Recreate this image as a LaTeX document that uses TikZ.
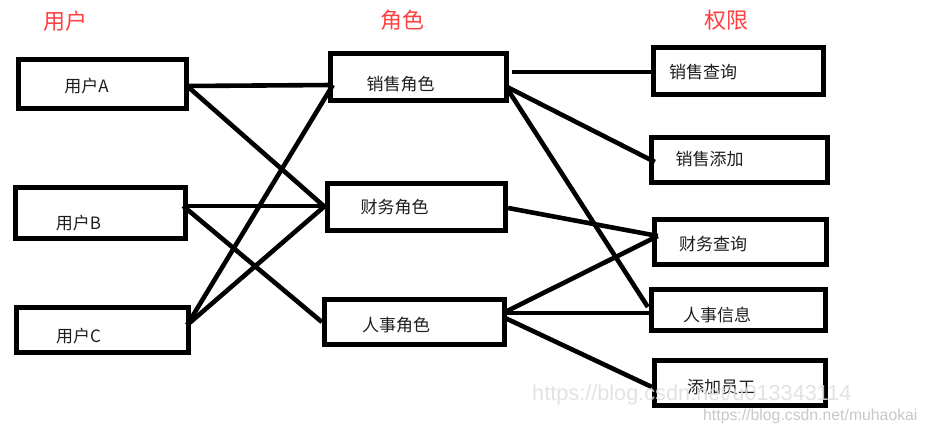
\documentclass[tikz,border=0pt]{standalone}
\usepackage{fontspec}
\setmainfont{Noto Sans CJK SC}
\newfontfamily\wmfont{Liberation Sans}
\usetikzlibrary{calc}
\definecolor{hdr}{RGB}{255,64,64}
\definecolor{wmA}{RGB}{222,222,222}
\definecolor{wmB}{RGB}{200,200,200}
\definecolor{txt}{RGB}{30,30,30}
\begin{document}
\begin{tikzpicture}[x=1pt,y=-1pt,
  box/.style={draw=black, line width=5.3pt, rectangle, inner sep=0pt},
  lbl/.style={font=\fontsize{17}{17}\selectfont, text=txt, inner sep=0pt},
  hdrlbl/.style={font=\fontsize{22}{22}\selectfont, text=hdr, inner sep=0pt},
  conn/.style={draw=black, line width=4.6pt},
  wm/.style={inner sep=0pt, anchor=west}]
\useasboundingbox[fill=white] (0,0) rectangle (926,435);

% headers
\node[hdrlbl] (h1) at (65,21) {用户};
\node[hdrlbl] (h2) at (402,20) {角色};
\node[hdrlbl] (h3) at (726,20) {权限};

% users
\node[box, minimum width=168pt, minimum height=49pt] (ua) at (102.5,84) {};
\node[box, minimum width=170pt, minimum height=51pt] (ub) at (100.5,213) {};
\node[box, minimum width=172pt, minimum height=45pt] (uc) at (102.5,330) {};
\node[lbl] (tua) at (86.5,86) {用户A};
\node[lbl] (tub) at (78.5,223.5) {用户B};
\node[lbl] (tuc) at (78.5,336) {用户C};

% roles
\node[box, minimum width=176pt, minimum height=47pt] (rs) at (418.5,77) {};
\node[box, minimum width=178pt, minimum height=47pt] (rf) at (416.5,207) {};
\node[box, minimum width=180pt, minimum height=45pt] (rh) at (414.5,322) {};
\node[lbl] (trs) at (400.5,84.5) {销售角色};
\node[lbl] (trf) at (394.5,207.5) {财务角色};
\node[lbl] (trh) at (396,325) {人事角色};

% permissions
\node[box, minimum width=170pt, minimum height=47pt] (p1) at (738.5,71) {};
\node[box, minimum width=176pt, minimum height=45pt] (p2) at (739.5,160) {};
\node[box, minimum width=172pt, minimum height=45pt] (p3) at (740.5,242) {};
\node[box, minimum width=174pt, minimum height=41pt] (p4) at (738.5,310) {};
\node[box, minimum width=171pt, minimum height=45pt] (p5) at (740,383) {};
\node[lbl] (tp1) at (703,72) {销售查询};
\node[lbl] (tp2) at (709.5,159.5) {销售添加};
\node[lbl] (tp3) at (713,244.5) {财务查询};
\node[lbl] (tp4) at (717,314.5) {人事信息};
\node[lbl] (tp5) at (721,387.5) {添加员工};

% users -> roles
\draw[conn] ($(ua.east)+(-2,2)$) -- ($(rs.west)+(5,8)$);
\draw[conn] ($(ua.east)+(-2,2)$) -- ($(rf.west)+(0,0)$);
\draw[conn] ($(ub.east)+(-5,-7)$) -- ($(rf.west)+(0,-1)$);
\draw[conn] ($(ub.east)+(-5,-7)$) -- ($(rh.west)+(0,0)$);
\draw[conn] ($(uc.east)+(-4,-5)$) -- ($(rs.west)+(5,8)$);
\draw[conn] ($(uc.east)+(-4,-5)$) -- ($(rf.west)+(0,-1)$);

% roles -> permissions
\draw[conn] ($(rs.east)+(3,-5)$) -- ($(p1.west)+(0,1)$);
\draw[conn] ($(rs.east)+(-4,9)$) -- ($(p2.west)+(6,2)$);
\draw[conn] ($(rs.east)+(-3,10)$) -- ($(p4.west)+(-1,-3)$);
\draw[conn] ($(rf.east)+(0,1)$) -- ($(p3.west)+(6,-6)$);
\draw[conn] ($(rh.east)+(-2,-10)$) -- ($(p3.west)+(6,-6)$);
\draw[conn] ($(rh.east)+(-2,-9)$) -- ($(p4.west)+(0,3)$);
\draw[conn] ($(rh.east)+(-2,-4)$) -- ($(p5.west)+(0,4)$);

% watermarks
\node[wm, text=wmA, opacity=0.85, font=\wmfont\fontsize{21.7}{22}\selectfont] (w1) at (532,395) {https://blog.csdn.net/u013343114};
\node[wm, text=wmB, font=\wmfont\fontsize{15.8}{16}\selectfont] (w2) at (703,416) {https://blog.csdn.net/muhaokai};
\end{tikzpicture}
\end{document}
